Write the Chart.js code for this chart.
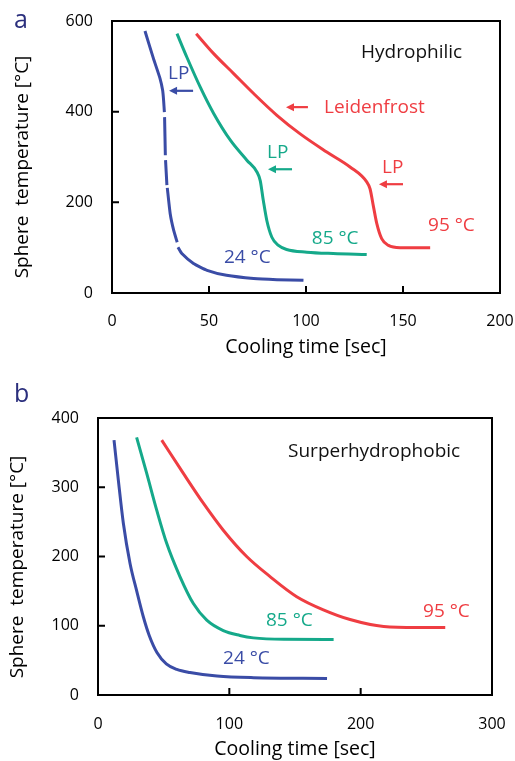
<!DOCTYPE html>
<html>
<head>
<meta charset="utf-8" />
<script src="https://cdn.jsdelivr.net/npm/chart.js@4.4.1/dist/chart.umd.min.js"></script>
<style>
  body { margin: 0; background: #fff; }
  .panel { position: absolute; left: 0; }
</style>
</head>
<body>
<div class="panel" style="top:0"><canvas id="chartA" width="515" height="380"></canvas></div>
<div class="panel" style="top:380px"><canvas id="chartB" width="515" height="381"></canvas></div>

<script>
// ---- data ----
// panel a, hydrophilic (null = gap in the trace)
const a24x = [17.0, 21.3, 24.7, 26.1, 26.6, 27.0, 27.05, 27.1, 27.5, 27.55, 27.6, 28.3, 28.35, 28.5, 30.0, 31.8, 33.6, 33.7, 34.0, 36, 42, 49, 59, 73, 85, 98.7];
const a24y = [578, 518, 474, 447, 425, 399, null, 388, 304, null, 293, 238, null, 232, 175, 138, 112, null, 101, 87, 65, 50, 39, 32, 29.5, 28];
const a85x = [33.5, 38.6, 45.5, 52.4, 61, 69.5, 74.7, 76.4, 78, 79.8, 82.4, 85.8, 90, 100.4, 114, 131.3];
const a85y = [572, 520, 454, 396, 337, 293, 267, 248, 204, 160, 123, 105, 96, 90, 87, 85];
const a95x = [43.4, 52.4, 62.7, 73, 85, 97, 110.7, 122.7, 131.3, 133, 134.8, 136.5, 139, 142.5, 148.5, 164];
const a95y = [572, 528, 484, 440, 392, 351, 311, 278, 245, 230, 190, 153, 120, 105, 100, 100];

// panel b, superhydrophobic
const b24x = [12.2, 15.5, 19.3, 24.4, 29.5, 34.5, 39, 45, 52, 60, 70, 90.6, 118.5, 174.4];
const b24y = [368, 310, 248, 190, 150, 113, 86, 61, 45, 37, 32.5, 27.4, 25, 24];
const b85x = [29.4, 37.1, 44.7, 52.3, 62.4, 72.6, 82.8, 95.4, 108, 118.3, 141.4, 179.4];
const b85y = [372, 320, 267, 219, 171, 132, 108, 93, 86, 82.5, 80.5, 80.3];
const b95x = [48.5, 65, 80.2, 95.4, 113.2, 131, 151.3, 171.6, 191.9, 217.5, 242.9, 264.4];
const b95y = [368, 320, 277, 238, 200, 171, 142, 123, 109, 99, 97.6, 97.6];

const aXTicks = [0, 50, 100, 150, 200];
const aYTicks = [0, 200, 400, 600];
const bXTicks = [0, 100, 200, 300];
const bYTicks = [0, 100, 200, 300, 400];

const BLUE = '#3a4ca6', GREEN = '#15a98a', RED = '#ef3d42', NAVY = '#2b2f7d';
const FONT = "'Open Sans', sans-serif";
const Y_TITLE = 'Sphere  temperature [°C]';

function pts(xs, ys) { return xs.map((x, i) => ({x: x, y: ys[i]})); }

// text labels and arrows, given in data units
const aNotes = [
  {text: 'Hydrophilic', x: 128.4, y: 531, color: '#111'},
  {text: 'LP', x: 28.9, y: 483, color: BLUE},
  {text: 'Leidenfrost', x: 109.3, y: 410, color: RED},
  {text: 'LP', x: 79.9, y: 309, color: GREEN},
  {text: 'LP', x: 139.2, y: 276, color: RED},
  {text: '95 °C', x: 162.9, y: 148, color: RED},
  {text: '85 °C', x: 103, y: 119, color: GREEN},
  {text: '24 °C', x: 57.7, y: 77, color: BLUE},
];
const aArrows = [
  {x1: 41.8, x2: 29.4, y: 446, color: BLUE},
  {x1: 101, x2: 89.7, y: 410, color: RED},
  {x1: 92.8, x2: 80.4, y: 273, color: GREEN},
  {x1: 150, x2: 137.6, y: 240, color: RED},
];
const bNotes = [
  {text: 'Surperhydrophobic', x: 144.7, y: 352, color: '#111'},
  {text: '85 °C', x: 127.9, y: 108, color: GREEN},
  {text: '95 °C', x: 247.5, y: 120, color: RED},
  {text: '24 °C', x: 95.2, y: 52, color: BLUE},
];

const decor = {
  id: 'decor',
  afterDatasetsDraw(chart, args, opts) {
    const {ctx, chartArea: ca} = chart;
    const xs = chart.scales.x, ys = chart.scales.y;
    ctx.save();
    // frame
    ctx.strokeStyle = '#000';
    ctx.lineWidth = 2;
    ctx.strokeRect(ca.left, ca.top, ca.right - ca.left, ca.bottom - ca.top);
    // inward ticks
    ctx.beginPath();
    xs.ticks.forEach(t => {
      const px = xs.getPixelForValue(t.value);
      ctx.moveTo(px, ca.bottom); ctx.lineTo(px, ca.bottom - 7);
    });
    ys.ticks.forEach(t => {
      const py = ys.getPixelForValue(t.value);
      ctx.moveTo(ca.left, py); ctx.lineTo(ca.left + 7, py);
    });
    ctx.stroke();
    // labels
    ctx.font = '19px ' + FONT;
    ctx.textAlign = 'left';
    ctx.textBaseline = 'middle';
    (opts.notes || []).forEach(n => {
      ctx.fillStyle = n.color;
      ctx.fillText(n.text, xs.getPixelForValue(n.x), ys.getPixelForValue(n.y));
    });
    // arrows
    (opts.arrows || []).forEach(a => {
      const p1 = xs.getPixelForValue(a.x1), p2 = xs.getPixelForValue(a.x2), py = ys.getPixelForValue(a.y);
      ctx.strokeStyle = a.color; ctx.fillStyle = a.color; ctx.lineWidth = 2.2;
      ctx.beginPath(); ctx.moveTo(p1, py); ctx.lineTo(p2 + 6, py); ctx.stroke();
      ctx.beginPath(); ctx.moveTo(p2, py); ctx.lineTo(p2 + 8, py - 4); ctx.lineTo(p2 + 8, py + 4); ctx.closePath(); ctx.fill();
    });
    // y axis title (sits a little below the axis centre in the original)
    ctx.save();
    ctx.translate(opts.yTitleX, opts.yTitleY);
    ctx.rotate(-Math.PI / 2);
    ctx.textAlign = 'center';
    ctx.fillStyle = '#000';
    ctx.font = '19px ' + FONT;
    ctx.fillText(Y_TITLE, 0, 0);
    ctx.restore();
    // panel letter
    ctx.font = '25px ' + FONT;
    ctx.fillStyle = NAVY;
    ctx.fillText(opts.letter, 14, opts.letterY);
    ctx.restore();
  }
};

function makeChart(id, sets, xMax, yMax, xTicks, yTicks, padding, yW, xH, xTickPad, xTitlePad, notes, arrows, letter, letterY, yTitleX, yTitleY) {
  return new Chart(document.getElementById(id), {
    type: 'line',
    data: {
      datasets: sets.map(s => Object.assign({
        data: s.data, borderColor: s.color, borderWidth: 3, pointRadius: 0,
        cubicInterpolationMode: 'monotone', spanGaps: false, fill: false
      }, s.extra || {}))
    },
    options: {
      responsive: false,
      animation: false,
      layout: {padding: padding},
      plugins: {
        legend: {display: false},
        tooltip: {enabled: false},
        decor: {notes: notes, arrows: arrows, letter: letter, letterY: letterY, yTitleX: yTitleX, yTitleY: yTitleY}
      },
      scales: {
        x: {
          type: 'linear', min: 0, max: xMax,
          afterBuildTicks: s => { s.ticks = xTicks.map(v => ({value: v})); },
          afterFit: s => { s.height = xH; s.paddingLeft = 0; s.paddingRight = 0; },
          grid: {display: false, drawTicks: false},
          border: {display: false},
          ticks: {color: '#000', font: {family: FONT, size: 16}, padding: xTickPad, maxRotation: 0},
          title: {display: true, text: 'Cooling time [sec]', color: '#000', font: {family: FONT, size: 19.5}, padding: {top: 0, bottom: xTitlePad}}
        },
        y: {
          type: 'linear', min: 0, max: yMax,
          afterBuildTicks: s => { s.ticks = yTicks.map(v => ({value: v})); },
          afterFit: s => { s.width = yW; s.paddingTop = 0; s.paddingBottom = 0; },
          grid: {display: false, drawTicks: false},
          border: {display: false},
          ticks: {color: '#000', font: {family: FONT, size: 16}, padding: 19},
          title: {display: false}
        }
      }
    },
    plugins: [decor]
  });
}

makeChart('chartA', [
  // near-vertical trace: plain bezier works better than monotone here
  {data: pts(a24x, a24y), color: BLUE, extra: {cubicInterpolationMode: 'default', tension: 0.15}},
  {data: pts(a85x, a85y), color: GREEN},
  {data: pts(a95x, a95y), color: RED}
], 200, 600, aXTicks, aYTicks, {left: 0, top: 21, right: 15, bottom: 0}, 112, 87, 19, 21, aNotes, aArrows, 'a', 21, 23, 167);

makeChart('chartB', [
  {data: pts(b24x, b24y), color: BLUE},
  {data: pts(b85x, b85y), color: GREEN},
  {data: pts(b95x, b95y), color: RED}
], 300, 400, bXTicks, bYTicks, {left: 0, top: 38, right: 23, bottom: 0}, 98, 66, 20, 0, bNotes, [], 'b', 15, 18, 187);
</script>
</body>
</html>
